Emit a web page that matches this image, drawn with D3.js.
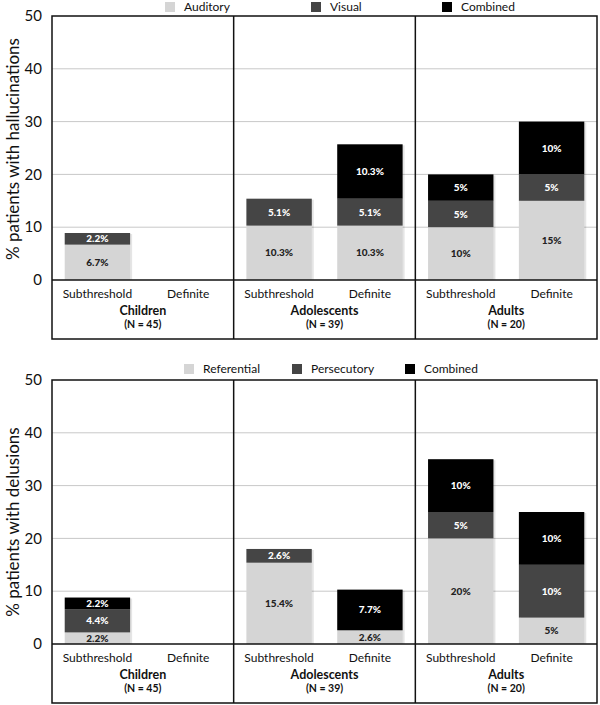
<!DOCTYPE html>
<html>
<head>
<meta charset="utf-8">
<script src="https://cdn.jsdelivr.net/npm/d3@7"></script>
<style>
  body { margin: 0; background: #fff; }
  svg { display: block; font-family: Lato, "Open Sans", sans-serif; }
</style>
</head>
<body>
<div id="chart"></div>
<script>
// Data for the charts
const groups = ["Children", "Adolescents", "Adults"];
const groupN = ["(N = 45)", "(N = 39)", "(N = 20)"];
const levels = ["Subthreshold", "Definite"];
const yTicks = [0, 10, 20, 30, 40, 50];

// order: Children Sub, Children Def, Adolescents Sub, Adolescents Def, Adults Sub, Adults Def
const hallKeys = ["Auditory", "Visual", "Combined"];
const hallAuditory = [6.7, 0, 10.3, 10.3, 10, 15];
const hallVisual = [2.2, 0, 5.1, 5.1, 5, 5];
const hallCombined = [0, 0, 0, 10.3, 5, 10];

const delKeys = ["Referential", "Persecutory", "Combined"];
const delReferential = [2.2, 0, 15.4, 2.6, 20, 5];
const delPersecutory = [4.4, 0, 2.6, 0, 5, 10];
const delCombined = [2.2, 0, 0, 7.7, 10, 10];

const colors = ["#d5d5d5", "#454545", "#000000"];
const labelColors = ["#222", "#fff", "#fff"];

const svg = d3.select("#chart").append("svg")
    .attr("width", 600)
    .attr("height", 705);

function buildRows(keys, series) {
    const rows = [];
    groups.forEach((g, gi) => {
        levels.forEach((l, li) => {
            const row = { group: g, level: l };
            keys.forEach((k, ki) => { row[k] = series[ki][gi * 2 + li]; });
            rows.push(row);
        });
    });
    return rows;
}

function drawPanel(opts) {
    const left = 52, right = 597;
    const y0 = opts.y0, yTop = opts.y0 - 264, boxBottom = opts.y0 + 59;
    const rows = buildRows(opts.keys, opts.series);

    const x = d3.scaleBand().domain(groups).range([left, right]);
    const xi = d3.scaleBand().domain(levels).range([0, x.bandwidth()])
        .paddingInner(0.28).paddingOuter(0.14);
    const y = d3.scaleLinear().domain([0, 50]).range([y0, yTop]);

    const g = svg.append("g");

    // gridlines
    g.append("g").selectAll("line")
        .data(yTicks.filter(t => t > 0 && t < 50))
        .enter().append("line")
        .attr("x1", left).attr("x2", right)
        .attr("y1", d => y(d)).attr("y2", d => y(d))
        .attr("stroke", "#c8c8c8").attr("stroke-width", 1);

    // bars
    const stacked = d3.stack().keys(opts.keys)(rows);
    const bx = d => x(d.data.group) + xi(d.data.level);

    // soft shadow behind each bar
    g.append("g").selectAll("rect")
        .data(rows.map(r => ({ data: r, total: d3.sum(opts.keys, k => r[k]) })).filter(d => d.total > 0))
        .enter().append("rect")
        .attr("x", d => bx(d) + 2)
        .attr("y", d => y(d.total) + 1)
        .attr("width", xi.bandwidth())
        .attr("height", d => y0 - y(d.total) - 1)
        .attr("fill", "#000").attr("opacity", 0.1);

    stacked.forEach((layer, li) => {
        const key = layer.key;
        const lg = g.append("g");
        const segs = layer.filter(d => d.data[key] > 0);
        lg.selectAll("rect")
            .data(segs)
            .enter().append("rect")
            .attr("x", bx)
            .attr("y", d => y(d[1]))
            .attr("width", xi.bandwidth())
            .attr("height", d => y(d[0]) - y(d[1]))
            .attr("fill", colors[li]);
        lg.selectAll("text")
            .data(segs)
            .enter().append("text")
            .attr("x", d => bx(d) + xi.bandwidth() / 2)
            .attr("y", d => y((d[0] + d[1]) / 2))
            .attr("dy", "0.35em")
            .attr("text-anchor", "middle")
            .attr("font-size", 10)
            .attr("font-weight", 900)
            .attr("fill", labelColors[li])
            .text(d => d.data[key] + "%");
    });

    // frame
    const frame = g.append("g").attr("stroke", "#111").attr("fill", "none").attr("stroke-width", 1.5);
    frame.append("rect")
        .attr("x", left).attr("y", yTop)
        .attr("width", right - left).attr("height", boxBottom - yTop);
    frame.append("line")
        .attr("x1", left).attr("x2", right).attr("y1", y0).attr("y2", y0);
    frame.selectAll(".div")
        .data(groups.slice(1))
        .enter().append("line")
        .attr("x1", d => x(d)).attr("x2", d => x(d))
        .attr("y1", yTop).attr("y2", boxBottom);

    // y axis labels
    g.append("g").selectAll("text")
        .data(yTicks)
        .enter().append("text")
        .attr("x", 42)
        .attr("y", d => y(d))
        .attr("dy", "0.35em")
        .attr("text-anchor", "end")
        .attr("font-size", 15)
        .attr("fill", "#111")
        .text(d => d);

    // y title
    g.append("text")
        .attr("transform", `translate(19,${opts.titleY}) rotate(-90)`)
        .attr("text-anchor", "middle")
        .attr("font-size", 17)
        .attr("fill", "#111")
        .text(opts.title);

    // category labels
    const cat = g.append("g").attr("text-anchor", "middle").attr("fill", "#111");
    groups.forEach((gr, gi) => {
        levels.forEach(l => {
            cat.append("text")
                .attr("x", x(gr) + xi(l) + xi.bandwidth() / 2)
                .attr("y", y0 + 14).attr("dy", "0.35em")
                .attr("font-size", 12)
                .text(l);
        });
        cat.append("text")
            .attr("x", x(gr) + x.bandwidth() / 2)
            .attr("y", y0 + 30.5).attr("dy", "0.35em")
            .attr("font-size", 12.5).attr("font-weight", 700)
            .text(gr);
        cat.append("text")
            .attr("x", x(gr) + x.bandwidth() / 2)
            .attr("y", y0 + 44.5).attr("dy", "0.35em")
            .attr("font-size", 10.5).attr("font-weight", 700)
            .text(groupN[gi]);
    });

    // legend
    const leg = g.append("g");
    opts.keys.forEach((k, i) => {
        leg.append("rect")
            .attr("x", opts.legendX[i]).attr("y", opts.legendY - 5)
            .attr("width", 10).attr("height", 10)
            .attr("fill", colors[i]);
        leg.append("text")
            .attr("x", opts.legendX[i] + 19).attr("y", opts.legendY)
            .attr("dy", "0.35em")
            .attr("font-size", 12)
            .attr("fill", "#111")
            .text(k);
    });
}

drawPanel({
    y0: 280,
    keys: hallKeys,
    series: [hallAuditory, hallVisual, hallCombined],
    title: "% patients with hallucinations",
    titleY: 149,
    legendX: [165, 311, 442],
    legendY: 7
});

drawPanel({
    y0: 644,
    keys: delKeys,
    series: [delReferential, delPersecutory, delCombined],
    title: "% patients with delusions",
    titleY: 522,
    legendX: [184, 292, 405],
    legendY: 369
});
</script>
</body>
</html>
